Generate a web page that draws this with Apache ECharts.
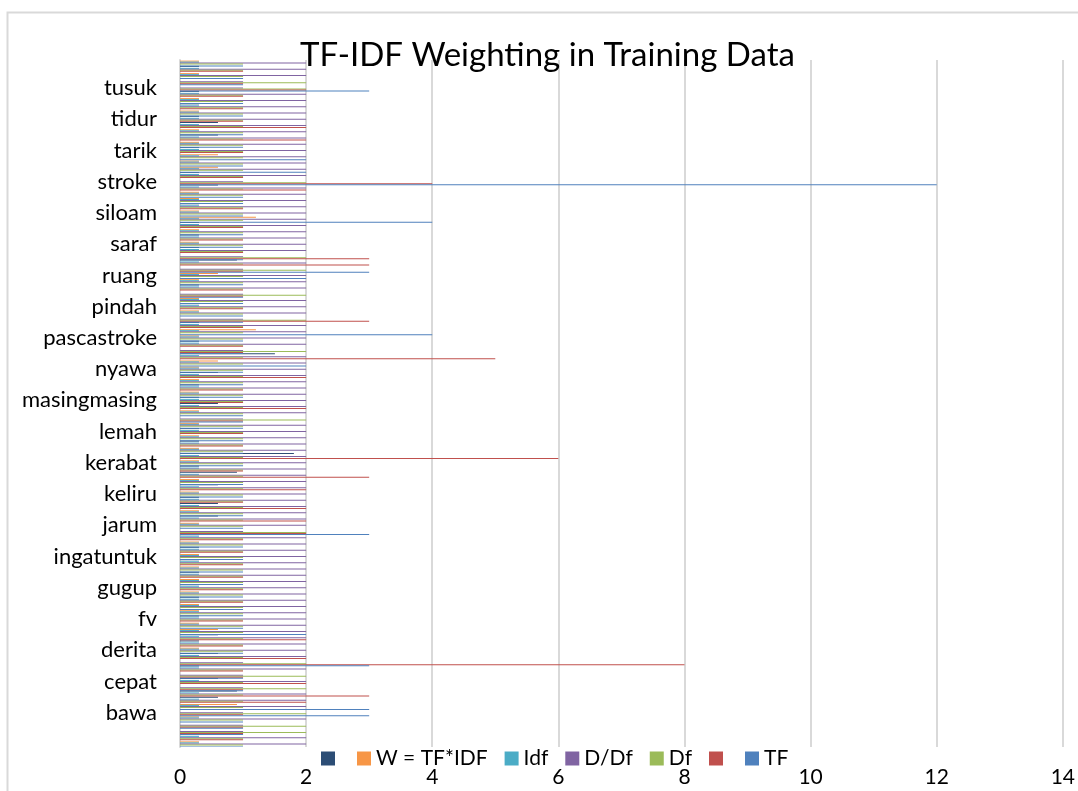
<!DOCTYPE html>
<html>
<head>
<meta charset="utf-8">
<script src="https://cdn.jsdelivr.net/npm/echarts@6/dist/echarts.min.js"></script>
<style>
  html, body { margin: 0; padding: 0; background: #fff; }
  #chart { width: 1078px; height: 791px; }
</style>
</head>
<body>
<div id="chart"></div>
<script>
// terms (bottom -> top); only every 5th term is labelled on the axis
var terms = [
  '', '', '', '', '', 'bawa', '', '', '', '',
  'cepat', '', '', '', '', 'derita', '', '', '', '',
  'fv', '', '', '', '', 'gugup', '', '', '', '',
  'ingatuntuk', '', '', '', '', 'jarum', '', '', '', '',
  'keliru', '', '', '', '', 'kerabat', '', '', '', '',
  'lemah', '', '', '', '', 'masingmasing', '', '', '', '',
  'nyawa', '', '', '', '', 'pascastroke', '', '', '', '',
  'pindah', '', '', '', '', 'ruang', '', '', '', '',
  'saraf', '', '', '', '', 'siloam', '', '', '', '',
  'stroke', '', '', '', '', 'tarik', '', '', '', '',
  'tidur', '', '', '', '', 'tusuk', '', '', '', ''
];

var xTicks = [0, 2, 4, 6, 8, 10, 12, 14];

// TF, document 1
var tf = [
  1,0,1,1,1,3,3,0,0,1,
  0,1,0,3,0,1,0,0,2,1,
  0,1,1,0,1,0,1,0,1,0,
  1,0,1,0,3,1,0,1,0,0,
  1,0,1,0,0,1,0,1,0,1,
  0,1,1,1,0,0,1,0,1,0,
  1,2,0,1,0,1,4,0,1,1,
  0,1,1,0,1,2,3,0,1,0,
  1,0,1,0,4,1,0,1,1,0,
  12,0,2,1,2,0,1,0,1,0,
  0,1,0,1,0,3,1,1,0,1
];
// TF, document 2 (unnamed column)
var tf2 = [
  0,1,1,1,0,1,0,2,3,1,
  2,1,1,8,2,0,1,2,0,0,
  1,0,0,1,0,1,0,1,0,1,
  0,1,0,1,2,0,2,0,2,1,
  0,2,0,3,1,0,6,0,1,0,
  1,0,1,0,2,1,0,1,0,2,
  0,0,5,1,1,0,0,1,3,0,
  1,0,1,1,0,0,1,3,3,1,
  0,1,0,1,0,0,1,0,0,2,
  4,1,0,0,0,1,0,2,0,2,
  1,0,1,0,1,2,1,0,1,0
];
var df = [
  1,1,2,2,1,2,1,1,1,2,
  1,2,1,2,1,1,1,1,1,1,
  1,1,1,1,1,1,1,1,1,1,
  1,1,1,1,2,1,1,1,1,1,
  1,1,1,1,1,1,1,1,1,1,
  1,1,2,1,1,1,1,1,1,1,
  1,1,1,2,1,1,1,1,2,1,
  1,1,2,1,1,1,2,1,2,1,
  1,1,1,1,1,1,1,1,1,1,
  2,1,1,1,1,1,1,1,1,1,
  1,1,1,1,1,2,2,1,1,1
];
var dDf = [
  2,2,1,1,2,1,2,2,2,1,
  2,1,2,1,2,2,2,2,2,2,
  2,2,2,2,2,2,2,2,2,2,
  2,2,2,2,1,2,2,2,2,2,
  2,2,2,2,2,2,2,2,2,2,
  2,2,1,2,2,2,2,2,2,2,
  2,2,2,1,2,2,2,2,1,2,
  2,2,1,2,2,2,1,2,1,2,
  2,2,2,2,2,2,2,2,2,2,
  1,2,2,2,2,2,2,2,2,2,
  2,2,2,2,2,1,1,2,2,2
];
var idf = [
  0.301,0.301,0,0,0.301,0,0.301,0.301,0.301,0,
  0.301,0,0.301,0,0.301,0.301,0.301,0.301,0.301,0.301,
  0.301,0.301,0.301,0.301,0.301,0.301,0.301,0.301,0.301,0.301,
  0.301,0.301,0.301,0.301,0,0.301,0.301,0.301,0.301,0.301,
  0.301,0.301,0.301,0.301,0.301,0.301,0.301,0.301,0.301,0.301,
  0.301,0.301,0,0.301,0.301,0.301,0.301,0.301,0.301,0.301,
  0.301,0.301,0.301,0,0.301,0.301,0.301,0.301,0,0.301,
  0.301,0.301,0,0.301,0.301,0.301,0,0.301,0,0.301,
  0.301,0.301,0.301,0.301,0.301,0.301,0.301,0.301,0.301,0.301,
  0,0.301,0.301,0.301,0.301,0.301,0.301,0.301,0.301,0.301,
  0.301,0.301,0.301,0.301,0.301,0,0,0.301,0.301,0.301
];
// W = TF*IDF, document 1
var w = [
  0.301,0,0,0,0.301,0,0.903,0,0,0,
  0,0,0,0,0,0.301,0,0,0.602,0.301,
  0,0.301,0.301,0,0.301,0,0.301,0,0.301,0,
  0.301,0,0.301,0,0,0.301,0,0.301,0,0,
  0.301,0,0.301,0,0,0.301,0,0.301,0,0.301,
  0,0.301,0,0.301,0,0,0.301,0,0.301,0,
  0.301,0.602,0,0,0,0.301,1.204,0,0,0.301,
  0,0.301,0,0,0.301,0.602,0,0,0,0,
  0.301,0,0.301,0,1.204,0.301,0,0.301,0.301,0,
  0,0,0.602,0.301,0.602,0,0.301,0,0.301,0,
  0,0.301,0,0.301,0,0,0,0.301,0,0.301
];
// W, document 2 (unnamed column)
var w2 = [
  0,0.301,0,0,0,0,0,0.602,0.903,0,
  0.602,0,0.301,0,0.602,0,0.301,0.602,0,0,
  0.301,0,0,0.301,0,0.301,0,0.301,0,0.301,
  0,0.301,0,0.301,0,0,0.602,0,0.602,0.301,
  0,0.602,0,0.903,0.301,0,1.806,0,0.301,0,
  0.301,0,0,0,0.602,0.301,0,0.301,0,0.602,
  0,0,1.505,0,0.301,0,0,0.301,0,0,
  0.301,0,0,0.301,0,0,0,0.903,0,0.301,
  0,0.301,0,0.301,0,0,0.301,0,0,0.602,
  0,0.301,0,0,0,0.301,0,0.602,0,0.602,
  0.301,0,0.301,0,0.301,0,0,0,0.301,0
];

// the two unnamed columns get invisible legend names
var blankA = '\u200b';
var blankB = '\u200b\u200b';

var font = 'Lato, "Open Sans", sans-serif';

function bar(name, data, color) {
  return {
    name: name,
    type: 'bar',
    data: data,
    barGap: '0%',
    barCategoryGap: '6%',
    itemStyle: { color: color },
    silent: true
  };
}

var chart = echarts.init(document.getElementById('chart'));
chart.setOption({
  animation: false,
  title: {
    text: 'TF-IDF Weighting in Training Data',
    left: 300,
    top: 39,
    padding: 0,
    textStyle: { fontFamily: font, fontSize: 33, fontWeight: 'normal', color: '#000' }
  },
  // chart frame
  graphic: [{
    type: 'rect',
    left: 5, top: 10,
    shape: { width: 1200, height: 900 },
    style: { fill: 'none', stroke: '#d9d9d9', lineWidth: 2 },
    z: -10
  }],
  legend: {
    left: 321,
    top: 748,
    padding: 0,
    itemWidth: 14,
    itemHeight: 14,
    itemGap: 17,
    icon: 'rect',
    textStyle: { fontFamily: font, fontSize: 21, color: '#000' },
    data: [blankA, 'W = TF*IDF', 'Idf', 'D/Df', 'Df', blankB, 'TF']
  },
  grid: { left: 180, right: 15, top: 60, bottom: 44 },
  xAxis: {
    type: 'value',
    min: xTicks[0],
    max: xTicks[xTicks.length - 1],
    interval: 2,
    axisLine: { show: false },
    axisTick: { show: false },
    axisLabel: { margin: 20, fontFamily: font, fontSize: 21, color: '#000' },
    splitLine: { show: true, lineStyle: { color: '#d9d9d9', width: 2 } }
  },
  yAxis: {
    type: 'category',
    data: terms,
    axisLine: { show: true, lineStyle: { color: '#d9d9d9', width: 2 } },
    axisTick: { show: false },
    axisLabel: { interval: 0, margin: 23, fontFamily: font, fontSize: 22, color: '#000' }
  },
  // listed top -> bottom inside each category group
  series: [
    bar(blankA, w2, '#2c4d75'),
    bar('W = TF*IDF', w, '#f79646'),
    bar('Idf', idf, '#4bacc6'),
    bar('D/Df', dDf, '#8064a2'),
    bar('Df', df, '#9bbb59'),
    bar(blankB, tf2, '#c0504d'),
    bar('TF', tf, '#4f81bd')
  ]
});
</script>
</body>
</html>
